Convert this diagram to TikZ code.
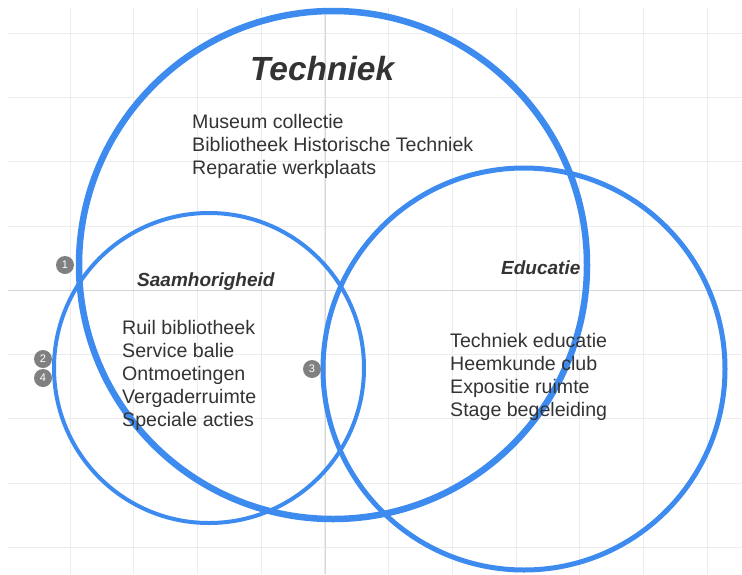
\documentclass[tikz,border=0pt]{standalone}
\usepackage{fontspec}
\setmainfont{Liberation Sans}

\definecolor{venblue}{RGB}{62,139,240}
\definecolor{txtgray}{RGB}{51,51,51}
\definecolor{badgegray}{RGB}{128,128,128}
\definecolor{gridgray}{RGB}{236,236,236}
\definecolor{axisgray}{RGB}{214,214,214}

\tikzset{
  ring/.style={circle, draw=venblue, inner sep=0pt},
  badge/.style={circle, fill=badgegray, minimum size=18pt, inner sep=0pt,
    text=white, font=\fontsize{11}{11}\selectfont},
  heading/.style={text=txtgray, inner sep=0pt, anchor=base west,
    font=\bfseries\itshape\fontsize{19}{23}\selectfont},
  items/.style={text=txtgray, inner sep=0pt, align=left, anchor=north west,
    font=\fontsize{19.6}{23}\selectfont},
  gridline/.style={color=gridgray, line width=0.8pt}
}

\begin{document}
\begin{tikzpicture}[x=1pt,y=-1pt]
\useasboundingbox (0,0) rectangle (742,574);

% grid
\foreach \i in {0,...,10}
  \draw[gridline] ({70+63.7*\i},8) -- ({70+63.7*\i},574);
\foreach \j in {0,...,8}
  \draw[gridline] (8,{33+64.3*\j}) -- (742,{33+64.3*\j});
\draw[gridline, color=axisgray] (325,8) -- (325,574);
\draw[gridline, color=axisgray] (8,290) -- (742,290);

% the three circles
\node[ring, minimum size=508, line width=6.5pt] (techniek) at (333,265) {};
\node[ring, minimum size=310, line width=4pt] (saam) at (209,368) {};
\node[ring, minimum size=402, line width=5pt] (educatie) at (524,369) {};

% titles
\node[heading, font=\bfseries\itshape\fontsize{33.5}{36}\selectfont] (tTech) at (250,80) {Techniek};
\node[heading] (tSaam) at (137,286) {Saamhorigheid};
\node[heading] (tEdu) at (501,274) {Educatie};

% contents
\node[items] (lTech) at (192,114) {Museum collectie\\Bibliotheek Historische Techniek\\Reparatie werkplaats};
\node[items] (lSaam) at (122,320) {Ruil bibliotheek\\Service balie\\Ontmoetingen\\Vergaderruimte\\Speciale acties};
\node[items] (lEdu) at (450,333) {Techniek educatie\\Heemkunde club\\Expositie ruimte\\Stage begeleiding};

% markers
\node[badge] (b1) at (65,265) {1};
\node[badge] (b2) at (43,359) {2};
\node[badge] (b4) at (43,378) {4};
\node[badge] (b3) at (312,369) {3};

\end{tikzpicture}
\end{document}
